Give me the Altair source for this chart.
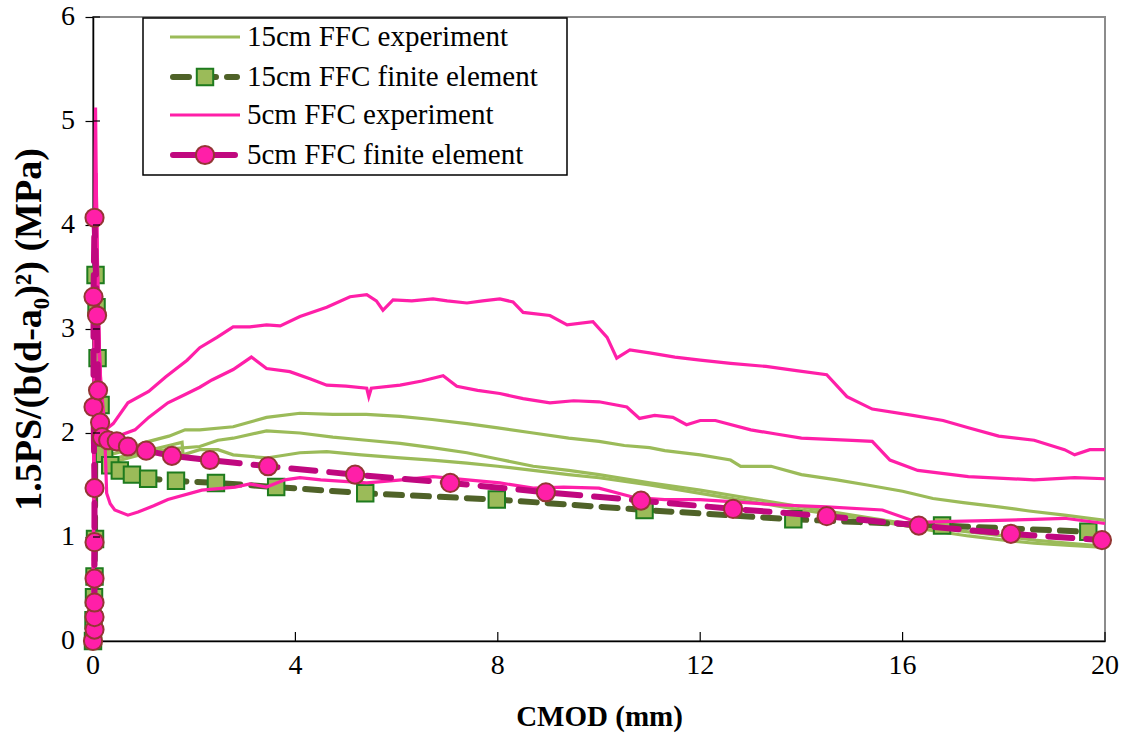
import altair as alt
import pandas as pd

# ---------------- data ----------------
# 5cm FFC experiment (three specimens)
p1_x = [0, 0.02, 0.04, 0.05, 0.07, 0.1, 0.15, 0.24, 0.4, 0.69, 1.1, 1.44, 1.86, 2.11, 2.45, 2.77, 3.1, 3.43, 3.7, 4.09, 4.62, 5.08, 5.41, 5.6, 5.73, 5.93, 6.3, 6.72, 7.0, 7.39, 7.7, 8.04, 8.3, 8.5, 9.03, 9.37, 9.88, 10.16, 10.35, 10.61, 11.0, 11.5, 12.0, 12.6, 13.3, 13.9, 14.5, 14.9, 15.4, 16.2, 16.8, 17.3, 17.9, 18.6, 19.2, 19.4, 19.7, 20.0]
p1_y = [0, 2.5, 4.6, 5.13, 4.2, 3.2, 2.5, 2.03, 2.09, 2.29, 2.40, 2.54, 2.70, 2.82, 2.92, 3.02, 3.02, 3.04, 3.03, 3.12, 3.21, 3.31, 3.33, 3.27, 3.18, 3.28, 3.27, 3.29, 3.27, 3.25, 3.27, 3.29, 3.26, 3.16, 3.13, 3.04, 3.07, 2.92, 2.72, 2.80, 2.77, 2.73, 2.70, 2.67, 2.64, 2.60, 2.56, 2.35, 2.23, 2.17, 2.12, 2.05, 1.97, 1.93, 1.84, 1.79, 1.84, 1.84]

p2_x = [0, 0.02, 0.04, 0.06, 0.09, 0.13, 0.2, 0.3, 0.43, 0.83, 1.1, 1.48, 1.82, 2.11, 2.35, 2.77, 3.13, 3.43, 3.89, 4.3, 4.62, 5.0, 5.41, 5.45, 5.5, 6.07, 6.5, 6.92, 7.19, 7.6, 8.04, 8.5, 9.03, 9.5, 10.0, 10.55, 10.8, 11.1, 11.46, 11.73, 12.0, 12.3, 13.0, 13.5, 14.0, 15.0, 15.4, 15.75, 16.3, 17.3, 18.6, 19.4, 20.0]
p2_y = [0, 2.0, 3.8, 4.5, 3.6, 2.7, 2.1, 1.95, 1.96, 2.03, 2.15, 2.29, 2.37, 2.44, 2.51, 2.61, 2.73, 2.62, 2.59, 2.52, 2.46, 2.45, 2.43, 2.35, 2.43, 2.46, 2.50, 2.55, 2.45, 2.41, 2.38, 2.33, 2.29, 2.31, 2.30, 2.25, 2.14, 2.17, 2.15, 2.08, 2.12, 2.12, 2.03, 1.99, 1.95, 1.93, 1.92, 1.74, 1.64, 1.58, 1.55, 1.57, 1.56]

p3_x = [0, 0.02, 0.04, 0.06, 0.1, 0.16, 0.24, 0.27, 0.34, 0.43, 0.69, 0.89, 1.2, 1.48, 2.15, 2.81, 3.1, 3.43, 3.79, 4.09, 4.5, 5.41, 6.1, 6.72, 7.4, 8.04, 8.7, 9.3, 10.0, 10.7, 11.3, 12.0, 12.6, 13.5, 14.5, 15.6, 16.3, 17.0, 17.9, 18.6, 19.2, 20.0]
p3_y = [0, 1.8, 3.2, 3.7, 3.0, 2.3, 1.87, 1.42, 1.32, 1.26, 1.21, 1.24, 1.30, 1.36, 1.45, 1.48, 1.51, 1.48, 1.55, 1.57, 1.55, 1.52, 1.55, 1.58, 1.55, 1.52, 1.47, 1.48, 1.47, 1.38, 1.36, 1.36, 1.34, 1.31, 1.29, 1.26, 1.14, 1.15, 1.16, 1.17, 1.18, 1.13]

# 15cm FFC experiment (three specimens)
g1_x = [0, 0.02, 0.05, 0.08, 0.12, 0.2, 0.4, 0.7, 1.03, 1.5, 1.82, 2.11, 2.77, 3.43, 4.09, 4.74, 5.4, 6.07, 6.7, 7.39, 8.0, 8.7, 9.4, 10.0, 10.5, 11.0, 11.3, 12.0, 12.6, 12.8, 13.4, 14.0, 14.7, 15.3, 16.0, 16.6, 17.2, 17.9, 18.5, 19.2, 20.0]
g1_y = [0, 1.5, 3.0, 2.4, 2.0, 1.82, 1.80, 1.84, 1.91, 1.97, 2.03, 2.03, 2.06, 2.15, 2.19, 2.18, 2.18, 2.16, 2.13, 2.09, 2.05, 2.00, 1.95, 1.92, 1.88, 1.86, 1.83, 1.79, 1.74, 1.68, 1.68, 1.60, 1.55, 1.50, 1.44, 1.37, 1.33, 1.29, 1.25, 1.21, 1.16]

g2_x = [0, 0.02, 0.05, 0.08, 0.12, 0.2, 0.4, 0.7, 1.17, 1.6, 2.11, 2.47, 2.77, 3.43, 4.09, 4.74, 5.4, 6.07, 6.7, 7.39, 8.0, 8.7, 9.4, 10.0, 11.0, 12.0, 13.0, 14.0, 15.0, 15.9, 16.6, 17.3, 18.0, 18.6, 19.3, 20.0]
g2_y = [0, 1.4, 2.8, 2.3, 1.9, 1.72, 1.72, 1.76, 1.82, 1.85, 1.87, 1.93, 1.95, 2.02, 2.00, 1.96, 1.93, 1.90, 1.86, 1.81, 1.75, 1.68, 1.64, 1.60, 1.52, 1.45, 1.37, 1.29, 1.21, 1.14, 1.09, 1.05, 1.01, 0.97, 0.94, 0.91]

g3_x = [0, 0.02, 0.05, 0.08, 0.12, 0.2, 0.34, 0.7, 1.17, 1.5, 1.76, 1.78, 2.11, 2.47, 2.77, 3.43, 4.09, 4.62, 5.3, 6.07, 6.7, 7.39, 8.0, 8.7, 9.4, 10.0, 11.0, 12.0, 13.0, 14.0, 15.0, 15.9, 16.6, 17.3, 18.0, 18.6, 19.3, 20.0]
g3_y = [0, 1.3, 2.6, 2.1, 1.8, 1.70, 1.74, 1.79, 1.84, 1.88, 1.91, 1.79, 1.84, 1.84, 1.79, 1.76, 1.81, 1.82, 1.79, 1.76, 1.74, 1.71, 1.68, 1.64, 1.60, 1.57, 1.50, 1.42, 1.34, 1.26, 1.19, 1.12, 1.06, 1.01, 0.97, 0.94, 0.92, 0.90]

# 15cm FFC finite element
fe15_x = [0, 0.01, 0.02, 0.03, 0.04, 0.05, 0.07, 0.09, 0.15, 0.22, 0.34, 0.53, 0.77, 1.09, 1.64, 2.43, 3.62, 5.38, 7.98, 10.9, 13.84, 16.78, 19.67]
fe15_y = [0, 0.20, 0.42, 0.62, 0.98, 3.52, 3.21, 2.72, 2.27, 1.80, 1.69, 1.64, 1.60, 1.56, 1.54, 1.52, 1.48, 1.42, 1.36, 1.26, 1.17, 1.11, 1.05]

# 5cm FFC finite element
fe5_x = [0, 0.03, 0.03, 0.03, 0.03, 0.03, 0.03, 0.01, 0.01, 0.03, 0.08, 0.1, 0.14, 0.18, 0.3, 0.47, 0.69, 1.05, 1.56, 2.31, 3.46, 5.18, 7.06, 8.95, 10.83, 12.65, 14.5, 16.32, 18.14, 19.94]
fe5_y = [0, 0.11, 0.23, 0.37, 0.60, 0.95, 1.47, 2.25, 3.31, 4.07, 3.13, 2.41, 2.10, 1.96, 1.93, 1.92, 1.87, 1.83, 1.78, 1.74, 1.68, 1.60, 1.52, 1.43, 1.35, 1.27, 1.20, 1.11, 1.03, 0.97]

x_ticks = [0, 4, 8, 12, 16, 20]
y_ticks = [0, 1, 2, 3, 4, 5, 6]
legend_labels = ["15cm FFC experiment", "15cm FFC finite element",
                 "5cm FFC experiment", "5cm FFC finite element"]

# ---------------- styling ----------------
W, H = 1012, 624
FONT = "Liberation Serif"
GREEN = "#9BBB59"
OLIVE = "#4F6228"
SQ_EDGE = "#1E7B1E"
PINK = "#FF1FA8"
MAGENTA = "#C0087F"
CIRC_EDGE = "#943634"
DASH15 = [16, 11]
DASH5 = [24, 14]


def df(name, xs, ys):
    return pd.DataFrame({"x": xs, "y": ys, "i": list(range(len(xs))), "s": name})


green_df = pd.concat([df("g1", g1_x, g1_y), df("g2", g2_x, g2_y), df("g3", g3_x, g3_y)])
pink_df = pd.concat([df("p1", p1_x, p1_y), df("p2", p2_x, p2_y), df("p3", p3_x, p3_y)])
fe15_df = df("fe15", fe15_x, fe15_y)
fe5_df = df("fe5", fe5_x, fe5_y)

xsc = alt.Scale(domain=[0, 20], nice=False, zero=False)
ysc = alt.Scale(domain=[0, 6], nice=False, zero=False)

# axis lines/titles from the axes; the tick numbers are drawn as serif text marks
X = alt.X("x:Q", scale=xsc, axis=alt.Axis(
    values=x_ticks, title="CMOD (mm)", grid=False, ticks=False, labels=False,
    titleFont=FONT, titleFontSize=29, titleFontWeight="bold",
    titleColor="#000", titlePadding=61, domainColor="#000", domainWidth=1.5))
Y = alt.Y("y:Q", scale=ysc, axis=alt.Axis(
    values=y_ticks, title="1.5PS/(b(d-a₀)²) (MPa)", grid=False, ticks=True,
    labels=False, tickSize=8, tickColor="#000", tickWidth=1.2,
    titleFont=FONT, titleFontSize=38, titleFontWeight="bold",
    titleColor="#000", titlePadding=36, domainColor="#000", domainWidth=1.5))

green_lines = alt.Chart(green_df).mark_line(color=GREEN, strokeWidth=3.2).encode(
    x=X, y=Y, detail="s:N", order="i:Q")
fe15_line = alt.Chart(fe15_df).mark_line(
    color=OLIVE, strokeWidth=6, strokeDash=DASH15, strokeCap="round").encode(
    x=X, y=Y, order="i:Q")
fe15_pts = alt.Chart(fe15_df).mark_point(
    shape="square", filled=True, fill=GREEN, stroke=SQ_EDGE, strokeWidth=2,
    size=270, opacity=1).encode(x=X, y=Y)
pink_lines = alt.Chart(pink_df).mark_line(color=PINK, strokeWidth=3.2).encode(
    x=X, y=Y, detail="s:N", order="i:Q")
fe5_line = alt.Chart(fe5_df).mark_line(
    color=MAGENTA, strokeWidth=6, strokeDash=DASH5, strokeCap="round").encode(
    x=X, y=Y, order="i:Q")
fe5_pts = alt.Chart(fe5_df).mark_point(
    shape="circle", filled=True, fill=PINK, stroke=CIRC_EDGE, strokeWidth=2,
    size=330, opacity=1).encode(x=X, y=Y)

# inward tick marks (x axis ticks point into the plot, y ticks cross the axis)
xt_df = pd.DataFrame({"x": x_ticks, "t": [str(v) for v in x_ticks]})
x_in_ticks = alt.Chart(xt_df.iloc[1:]).mark_rule(color="#000", strokeWidth=1.2).encode(
    x=X, y=alt.value(H), y2=alt.value(H - 9))
yt_df = pd.DataFrame({"y": y_ticks, "t": [str(v) for v in y_ticks]})
y_in_ticks = alt.Chart(yt_df.iloc[1:]).mark_rule(color="#000", strokeWidth=1.2).encode(
    y=Y, x=alt.value(0), x2=alt.value(7))

# tick numbers (serif)
x_lab = alt.Chart(xt_df).mark_text(
    font=FONT, fontSize=28, color="#000", align="center", baseline="middle").encode(
    x=X, y=alt.value(H + 25), text="t:N")
y_lab = alt.Chart(yt_df).mark_text(
    font=FONT, fontSize=28, color="#000", align="right", baseline="middle").encode(
    y=Y, x=alt.value(-18), text="t:N")

# ---------------- legend (drawn inside the plot, top-left) ----------------
LX0, LX1 = 50, 474          # box left/right (plot pixels)
LY0, LY1 = 1, 158           # box top/bottom
rows = [20, 60, 98, 138]    # row centres
SX0, SX1, SXM = 77, 147, 112
TX = 154

leg_df = pd.DataFrame({"label": legend_labels})
box = alt.Chart(pd.DataFrame({"a": [0]})).mark_rect(
    fill="white", stroke="#000", strokeWidth=1.5).encode(
    x=alt.value(LX0), x2=alt.value(LX1), y=alt.value(LY0), y2=alt.value(LY1))

def seg(color, width, row, dash=None, x0=SX0, x1=SX1):
    kw = dict(color=color, strokeWidth=width, strokeCap="round" if dash else "butt")
    if dash:
        kw["strokeDash"] = dash
    return alt.Chart(pd.DataFrame({"a": [0]})).mark_rule(**kw).encode(
        x=alt.value(x0), x2=alt.value(x1), y=alt.value(row), y2=alt.value(row))

leg_items = [
    seg(GREEN, 3.2, rows[0]),
    seg(OLIVE, 6, rows[1], DASH15, SX0 + 3, SX1 - 3),
    alt.Chart(pd.DataFrame({"a": [0]})).mark_point(
        shape="square", filled=True, fill=GREEN, stroke=SQ_EDGE, strokeWidth=2,
        size=270, opacity=1).encode(x=alt.value(SXM), y=alt.value(rows[1])),
    seg(PINK, 3.2, rows[2]),
    seg(MAGENTA, 6, rows[3], DASH5, SX0 + 3, SX1 - 3),
    alt.Chart(pd.DataFrame({"a": [0]})).mark_point(
        shape="circle", filled=True, fill=PINK, stroke=CIRC_EDGE, strokeWidth=2,
        size=330, opacity=1).encode(x=alt.value(SXM), y=alt.value(rows[3])),
]
leg_text = [
    alt.Chart(leg_df.iloc[[k]]).mark_text(
        align="left", baseline="middle", font=FONT, fontSize=29, color="#000").encode(
        x=alt.value(TX), y=alt.value(rows[k]), text="label:N")
    for k in range(4)
]

chart = alt.layer(
    green_lines, fe15_line, fe15_pts, pink_lines, fe5_line, fe5_pts,
    x_in_ticks, y_in_ticks, x_lab, y_lab, box, *leg_items, *leg_text
).properties(
    width=W, height=H,
    padding={"left": 93, "top": 17, "right": 24, "bottom": 92},
    autosize=alt.AutoSizeParams(type="none"),
    background="white",
).configure(font=FONT
).configure_view(stroke="#8c8c8c", strokeWidth=2
).configure_axis(titleFont=FONT, titleColor="#000")

chart.save("out.html", embed_options={"renderer": "svg", "actions": False})
